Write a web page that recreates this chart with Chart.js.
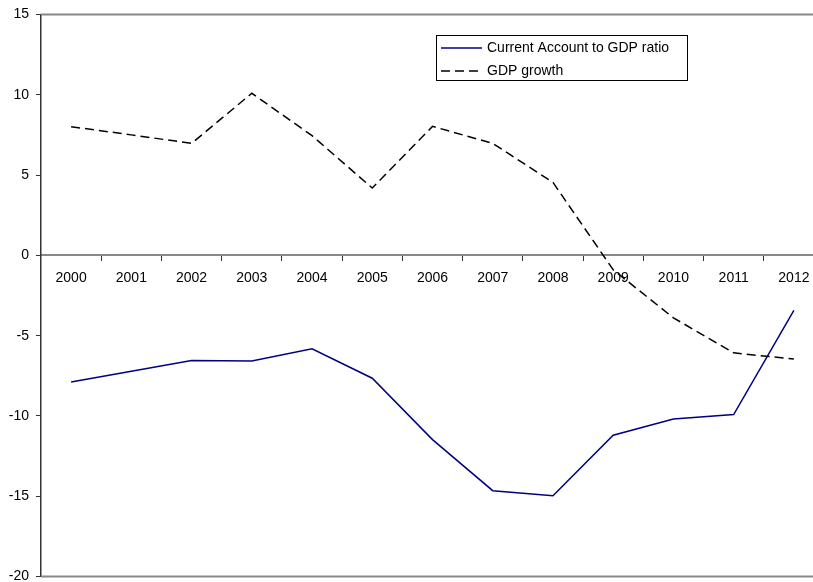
<!DOCTYPE html>
<html>
<head>
<meta charset="utf-8">
<script src="https://cdn.jsdelivr.net/npm/chart.js@4"></script>
<style>
  html, body { margin: 0; padding: 0; background: #fff; overflow: hidden; }
  #wrap { width: 824px; height: 593px; margin-top: -1px; position: relative; }
</style>
</head>
<body>
<div id="wrap"><canvas id="myChart"></canvas></div>
<script>
'use strict';

const years = ['2000', '2001', '2002', '2003', '2004', '2005', '2006',
  '2007', '2008', '2009', '2010', '2011', '2012'];
const currentAccount = [-7.88, -7.21, -6.55, -6.57, -5.82, -7.65, -11.47,
  -14.65, -14.97, -11.2, -10.19, -9.91, -3.43];
const gdpGrowth = [8.01, 7.5, 6.97, 10.09, 7.45, 4.19, 8.03,
  6.97, 4.54, -0.9, -3.89, -6.07, -6.46];
const yTicks = [15, 10, 5, 0, -5, -10, -15, -20];

const fontFamily = '"Liberation Sans", Arial, sans-serif';

// top / bottom frame lines of the plot area
const frame = {
  id: 'frame',
  beforeDatasetsDraw(chart) {
    const { ctx, chartArea: a } = chart;
    ctx.save();
    ctx.strokeStyle = '#888';
    ctx.lineWidth = 2;
    ctx.beginPath();
    ctx.moveTo(a.left, a.top);
    ctx.lineTo(a.right, a.top);
    ctx.moveTo(a.left, a.bottom);
    ctx.lineTo(a.right, a.bottom);
    ctx.stroke();
    ctx.restore();
  }
};

// boxed legend inside the plot (page is shifted up 1px)
const boxLegend = {
  id: 'boxLegend',
  afterDraw(chart) {
    const ctx = chart.ctx;
    const x = 436, y = 36, w = 251, h = 45;
    ctx.save();
    ctx.fillStyle = '#fff';
    ctx.fillRect(x, y, w, h);
    ctx.strokeStyle = '#000';
    ctx.lineWidth = 1;
    ctx.strokeRect(x + 0.5, y + 0.5, w, h);
    ctx.font = '14px ' + fontFamily;
    ctx.textBaseline = 'middle';
    chart.data.datasets.forEach((ds, i) => {
      const ly = 49 + i * 23;
      ctx.strokeStyle = ds.borderColor;
      ctx.lineWidth = ds.borderWidth;
      ctx.setLineDash(ds.borderDash || []);
      ctx.beginPath();
      ctx.moveTo(441, ly);
      ctx.lineTo(482, ly);
      ctx.stroke();
      ctx.setLineDash([]);
      ctx.fillStyle = '#000';
      ctx.fillText(ds.label, 487, ly);
    });
    ctx.restore();
  }
};

const ctx = document.getElementById('myChart');

new Chart(ctx, {
  type: 'line',
  data: {
    labels: years,
    datasets: [
      {
        label: 'Current Account to GDP ratio',
        data: currentAccount,
        borderColor: '#000080',
        borderWidth: 1.5,
        pointRadius: 0,
        tension: 0,
        fill: false
      },
      {
        label: 'GDP growth',
        data: gdpGrowth,
        borderColor: '#000',
        borderWidth: 1.5,
        borderDash: [9, 5],
        pointRadius: 0,
        tension: 0,
        fill: false
      }
    ]
  },
  options: {
    responsive: true,
    maintainAspectRatio: false,
    animation: false,
    layout: { padding: 0 },
    plugins: {
      legend: { display: false },
      tooltip: { enabled: false }
    },
    scales: {
      x: {
        position: { y: 0 },
        offset: true,
        grid: {
          offset: true,
          drawOnChartArea: false,
          drawTicks: true,
          tickLength: 5,
          color: '#333'
        },
        border: { color: '#888', width: 2 },
        ticks: {
          color: '#000',
          padding: 9,
          maxRotation: 0,
          autoSkip: false,
          font: { family: fontFamily, size: 14 }
        }
      },
      y: {
        min: -20,
        max: 15,
        afterBuildTicks(scale) {
          scale.ticks = yTicks.map(v => ({ value: v }));
        },
        afterFit(scale) {
          scale.width = 41;
        },
        grid: {
          drawOnChartArea: false,
          drawTicks: true,
          tickLength: 5,
          color: '#333'
        },
        border: { color: '#333', width: 1.5 },
        ticks: {
          color: '#000',
          padding: 7,
          font: { family: fontFamily, size: 14 }
        }
      }
    }
  },
  plugins: [frame, boxLegend]
});
</script>
</body>
</html>
